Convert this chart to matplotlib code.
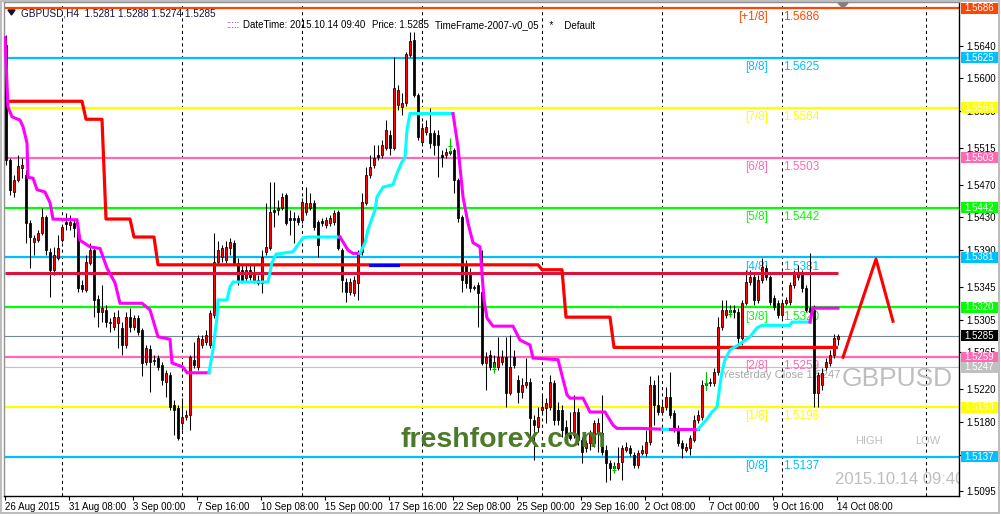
import numpy as np
import matplotlib
matplotlib.use("Agg")
import matplotlib.pyplot as plt
import matplotlib.transforms as mtransforms
from matplotlib.patches import Rectangle, Polygon

plt.rcParams['font.family'] = ['Liberation Sans', 'DejaVu Sans']

# ---------------- data (GBPUSD H4) ----------------
opens = [1.5641, 1.5500, 1.5461, 1.5476, 1.5490, 1.5482, 1.5423, 1.5400, 1.5402, 1.5411,
         1.5430, 1.5388, 1.5366, 1.5380, 1.5402, 1.5424, 1.5421, 1.5423, 1.5415, 1.5347,
         1.5341, 1.5374, 1.5390, 1.5330, 1.5314, 1.5317, 1.5301, 1.5296, 1.5301, 1.5295,
         1.5274, 1.5308, 1.5296, 1.5307, 1.5292, 1.5253, 1.5269, 1.5254, 1.5258, 1.5249,
         1.5229, 1.5237, 1.5201, 1.5197, 1.5178, 1.5186, 1.5188, 1.5256, 1.5247, 1.5274,
         1.5278, 1.5274, 1.5311, 1.5375, 1.5381, 1.5378, 1.5392, 1.5399, 1.5374, 1.5366,
         1.5356, 1.5366, 1.5353, 1.5353, 1.5350, 1.5388, 1.5392, 1.5439, 1.5439, 1.5441,
         1.5457, 1.5429, 1.5429, 1.5429, 1.5427, 1.5437, 1.5441, 1.5448, 1.5424, 1.5426,
         1.5421, 1.5423, 1.5424, 1.5437, 1.5390, 1.5351, 1.5339, 1.5337, 1.5350, 1.5388,
         1.5448, 1.5482, 1.5494, 1.5506, 1.5506, 1.5515, 1.5531, 1.5515, 1.5567, 1.5565,
         1.5570, 1.5629, 1.5647, 1.5580, 1.5522, 1.5534, 1.5533, 1.5533, 1.5531, 1.5506,
         1.5506, 1.5509, 1.5512, 1.5476, 1.5430, 1.5372, 1.5363, 1.5344, 1.5347, 1.5339,
         1.5252, 1.5262, 1.5247, 1.5247, 1.5253, 1.5259, 1.5215, 1.5259, 1.5231, 1.5216,
         1.5225, 1.5229, 1.5182, 1.5174, 1.5195, 1.5197, 1.5198, 1.5228, 1.5195, 1.5195,
         1.5174, 1.5164, 1.5164, 1.5192, 1.5158, 1.5148, 1.5154, 1.5154, 1.5166, 1.5166,
         1.5146, 1.5130, 1.5123, 1.5123, 1.5131, 1.5146, 1.5148, 1.5140, 1.5127, 1.5142,
         1.5142, 1.5155, 1.5225, 1.5201, 1.5192, 1.5198, 1.5210, 1.5191, 1.5172, 1.5154,
         1.5146, 1.5148, 1.5158, 1.5182, 1.5186, 1.5225, 1.5228, 1.5228, 1.5241, 1.5296,
         1.5311, 1.5317, 1.5317, 1.5314, 1.5282, 1.5325, 1.5351, 1.5357, 1.5329, 1.5353,
         1.5368, 1.5357, 1.5331, 1.5325, 1.5311, 1.5325, 1.5327, 1.5347, 1.5357, 1.5362,
         1.5344, 1.5319, 1.5317, 1.5215, 1.5225, 1.5247, 1.5252, 1.5262, 1.5281]
highs = [1.5653, 1.5503, 1.5482, 1.5506, 1.5503, 1.5488, 1.5427, 1.5408, 1.5415, 1.5441,
         1.5433, 1.5392, 1.5394, 1.5408, 1.5421, 1.5435, 1.5433, 1.5427, 1.5417, 1.5353,
         1.5384, 1.5399, 1.5392, 1.5335, 1.5347, 1.5323, 1.5307, 1.5314, 1.5317, 1.5302,
         1.5314, 1.5319, 1.5311, 1.5311, 1.5295, 1.5274, 1.5274, 1.5262, 1.5262, 1.5253,
         1.5243, 1.5241, 1.5207, 1.5201, 1.5209, 1.5195, 1.5262, 1.5278, 1.5286, 1.5286,
         1.5292, 1.5317, 1.5411, 1.5401, 1.5396, 1.5401, 1.5405, 1.5402, 1.5380, 1.5372,
         1.5372, 1.5372, 1.5372, 1.5360, 1.5390, 1.5448, 1.5473, 1.5473, 1.5451, 1.5460,
         1.5460, 1.5439, 1.5437, 1.5433, 1.5454, 1.5467, 1.5460, 1.5451, 1.5427, 1.5429,
         1.5430, 1.5433, 1.5439, 1.5439, 1.5392, 1.5356, 1.5356, 1.5358, 1.5390, 1.5460,
         1.5492, 1.5506, 1.5518, 1.5519, 1.5525, 1.5549, 1.5537, 1.5626, 1.5592, 1.5582,
         1.5632, 1.5657, 1.5657, 1.5582, 1.5545, 1.5549, 1.5564, 1.5537, 1.5537, 1.5512,
         1.5515, 1.5515, 1.5515, 1.5478, 1.5433, 1.5378, 1.5368, 1.5347, 1.5351, 1.5390,
         1.5265, 1.5268, 1.5262, 1.5284, 1.5268, 1.5284, 1.5286, 1.5268, 1.5237, 1.5234,
         1.5258, 1.5234, 1.5188, 1.5198, 1.5213, 1.5209, 1.5237, 1.5231, 1.5204, 1.5201,
         1.5182, 1.5192, 1.5213, 1.5197, 1.5161, 1.5158, 1.5170, 1.5182, 1.5185, 1.5213,
         1.5152, 1.5133, 1.5131, 1.5149, 1.5152, 1.5155, 1.5152, 1.5143, 1.5146, 1.5152,
         1.5170, 1.5236, 1.5231, 1.5237, 1.5204, 1.5223, 1.5241, 1.5195, 1.5176, 1.5158,
         1.5154, 1.5164, 1.5188, 1.5195, 1.5231, 1.5241, 1.5234, 1.5246, 1.5308, 1.5329,
         1.5329, 1.5323, 1.5323, 1.5319, 1.5329, 1.5366, 1.5366, 1.5363, 1.5360, 1.5380,
         1.5372, 1.5360, 1.5335, 1.5329, 1.5329, 1.5333, 1.5351, 1.5366, 1.5372, 1.5366,
         1.5347, 1.5386, 1.5323, 1.5241, 1.5246, 1.5258, 1.5268, 1.5287, 1.5288]
lows = [1.5494, 1.5457, 1.5455, 1.5473, 1.5478, 1.5399, 1.5368, 1.5384, 1.5400, 1.5408,
        1.5384, 1.5333, 1.5360, 1.5378, 1.5400, 1.5415, 1.5415, 1.5406, 1.5339, 1.5339,
        1.5339, 1.5372, 1.5308, 1.5296, 1.5302, 1.5296, 1.5290, 1.5292, 1.5270, 1.5262,
        1.5270, 1.5290, 1.5292, 1.5286, 1.5236, 1.5249, 1.5216, 1.5249, 1.5243, 1.5225,
        1.5210, 1.5195, 1.5164, 1.5158, 1.5170, 1.5182, 1.5170, 1.5246, 1.5243, 1.5270,
        1.5274, 1.5270, 1.5307, 1.5372, 1.5375, 1.5374, 1.5384, 1.5372, 1.5347, 1.5350,
        1.5351, 1.5353, 1.5350, 1.5347, 1.5337, 1.5384, 1.5390, 1.5418, 1.5433, 1.5439,
        1.5421, 1.5408, 1.5399, 1.5421, 1.5423, 1.5433, 1.5439, 1.5415, 1.5381, 1.5419,
        1.5417, 1.5419, 1.5421, 1.5390, 1.5339, 1.5327, 1.5335, 1.5334, 1.5329, 1.5384,
        1.5445, 1.5478, 1.5490, 1.5500, 1.5503, 1.5512, 1.5506, 1.5512, 1.5561, 1.5555,
        1.5566, 1.5626, 1.5577, 1.5525, 1.5519, 1.5531, 1.5515, 1.5506, 1.5479, 1.5492,
        1.5503, 1.5506, 1.5460, 1.5424, 1.5339, 1.5344, 1.5339, 1.5341, 1.5296, 1.5249,
        1.5219, 1.5243, 1.5241, 1.5243, 1.5249, 1.5198, 1.5213, 1.5246, 1.5203, 1.5209,
        1.5221, 1.5160, 1.5133, 1.5168, 1.5188, 1.5178, 1.5195, 1.5176, 1.5176, 1.5161,
        1.5158, 1.5158, 1.5160, 1.5152, 1.5130, 1.5143, 1.5146, 1.5149, 1.5143, 1.5139,
        1.5106, 1.5109, 1.5119, 1.5121, 1.5109, 1.5143, 1.5138, 1.5123, 1.5123, 1.5140,
        1.5138, 1.5152, 1.5176, 1.5188, 1.5188, 1.5195, 1.5185, 1.5168, 1.5150, 1.5136,
        1.5143, 1.5140, 1.5155, 1.5178, 1.5182, 1.5219, 1.5224, 1.5224, 1.5237, 1.5292,
        1.5307, 1.5311, 1.5307, 1.5274, 1.5274, 1.5323, 1.5347, 1.5323, 1.5325, 1.5350,
        1.5353, 1.5323, 1.5317, 1.5307, 1.5307, 1.5323, 1.5323, 1.5344, 1.5353, 1.5339,
        1.5314, 1.5311, 1.5198, 1.5198, 1.5219, 1.5243, 1.5248, 1.5258, 1.5274]
closes = [1.5500, 1.5463, 1.5476, 1.5493, 1.5494, 1.5423, 1.5406, 1.5405, 1.5411, 1.5430,
          1.5390, 1.5366, 1.5384, 1.5392, 1.5418, 1.5422, 1.5424, 1.5417, 1.5344, 1.5342,
          1.5375, 1.5390, 1.5329, 1.5314, 1.5319, 1.5302, 1.5302, 1.5308, 1.5308, 1.5274,
          1.5308, 1.5296, 1.5307, 1.5290, 1.5252, 1.5270, 1.5253, 1.5256, 1.5247, 1.5231,
          1.5240, 1.5198, 1.5195, 1.5160, 1.5186, 1.5188, 1.5259, 1.5249, 1.5282, 1.5281,
          1.5286, 1.5313, 1.5375, 1.5390, 1.5392, 1.5394, 1.5400, 1.5374, 1.5353, 1.5353,
          1.5366, 1.5357, 1.5363, 1.5350, 1.5381, 1.5394, 1.5437, 1.5437, 1.5441, 1.5455,
          1.5423, 1.5427, 1.5427, 1.5424, 1.5449, 1.5448, 1.5448, 1.5418, 1.5396, 1.5423,
          1.5427, 1.5429, 1.5435, 1.5392, 1.5353, 1.5339, 1.5351, 1.5353, 1.5386, 1.5449,
          1.5482, 1.5492, 1.5503, 1.5504, 1.5518, 1.5537, 1.5515, 1.5588, 1.5586, 1.5570,
          1.5630, 1.5646, 1.5580, 1.5528, 1.5539, 1.5540, 1.5521, 1.5518, 1.5518, 1.5504,
          1.5510, 1.5511, 1.5476, 1.5429, 1.5353, 1.5350, 1.5344, 1.5345, 1.5337, 1.5252,
          1.5259, 1.5247, 1.5253, 1.5259, 1.5259, 1.5215, 1.5247, 1.5249, 1.5216, 1.5225,
          1.5229, 1.5185, 1.5176, 1.5186, 1.5198, 1.5203, 1.5229, 1.5182, 1.5182, 1.5170,
          1.5161, 1.5160, 1.5192, 1.5158, 1.5143, 1.5154, 1.5166, 1.5178, 1.5178, 1.5143,
          1.5130, 1.5123, 1.5126, 1.5130, 1.5148, 1.5149, 1.5142, 1.5127, 1.5142, 1.5146,
          1.5155, 1.5225, 1.5201, 1.5192, 1.5198, 1.5210, 1.5188, 1.5172, 1.5154, 1.5148,
          1.5149, 1.5160, 1.5182, 1.5188, 1.5225, 1.5228, 1.5229, 1.5241, 1.5296, 1.5317,
          1.5317, 1.5314, 1.5314, 1.5282, 1.5325, 1.5351, 1.5357, 1.5329, 1.5353, 1.5369,
          1.5357, 1.5327, 1.5320, 1.5311, 1.5325, 1.5329, 1.5347, 1.5362, 1.5362, 1.5344,
          1.5317, 1.5314, 1.5215, 1.5237, 1.5240, 1.5253, 1.5262, 1.5282, 1.5285]

x_tick_labels = ['26 Aug 2015', '31 Aug 08:00', '3 Sep 00:00', '7 Sep 16:00', '10 Sep 08:00',
                 '15 Sep 00:00', '17 Sep 16:00', '22 Sep 08:00', '25 Sep 00:00', '29 Sep 16:00',
                 '2 Oct 08:00', '7 Oct 00:00', '9 Oct 16:00', '14 Oct 08:00']
y_ticks = [1.5640, 1.5600, 1.5560, 1.5515, 1.5470, 1.5430, 1.5390, 1.5345,
           1.5305, 1.5265, 1.5220, 1.5180, 1.5140, 1.5095]
grid_bars = [14, 44, 74, 104, 134, 164, 194, 230]

# Murrey math levels
mm_names = ['[+1/8]', '[8/8]', '[7/8]', '[6/8]', '[5/8]', '[4/8]', '[3/8]', '[2/8]', '[1/8]', '[0/8]']
mm_levels = [1.5686, 1.5625, 1.5564, 1.5503, 1.5442, 1.5381, 1.5320, 1.5259, 1.5198, 1.5137]
mm_colors = ['#FF4500', '#00BFFF', '#FFFF00', '#FF69B4', '#00FF00',
             '#00BFFF', '#00FF00', '#FF69B4', '#FFFF00', '#00BFFF']

current_price = 1.5285
yesterday_close = 1.5247
pivot_level = 1.5362

# red trailing stop: level changes at these bars
stop_start = [0, 20, 25, 32, 38, 134, 140, 152]
stop_level = [1.5572, 1.5550, 1.5428, 1.5406, 1.5372, 1.5366, 1.5308, 1.5271]
stop_blue_bars = [91, 98]

# magenta / cyan trend line knots (bar, price) and colour switch bars
trail_bars = [-0.25, 0.5, 1.5, 3.5, 4.25, 5.25, 5.5, 6.75, 7.75, 9.75, 11, 11.75, 17.75, 18.5,
              21, 23.5, 25.25, 27.25, 28.5, 34, 36, 38, 41, 41.5, 44.25, 45.25, 50.75,
              51.75, 52.75, 53, 55.25, 56, 56.75, 65.5, 66.5, 67.5, 71.75, 74.25, 75.5, 83.5,
              85.5, 86.75, 88.5,
              89.75, 90.5, 92.25, 92.75, 94.25, 96.75, 97.75, 99, 99.75, 100.25, 101, 111.75,
              113, 114.25, 115.5, 116.75, 118.5, 119.5, 120.25, 121.75, 126.75, 128.5, 131,
              131.75, 138, 140.25, 141, 144.25, 146, 149.75, 151.75, 152.75, 158.5, 164,
              166, 173,
              175, 176.5, 177.75, 178.5, 179, 179.75, 181, 182.75, 184.25, 186, 187.75, 189,
              196, 196.5, 201, 201.75, 208]
trail_vals = [1.5650, 1.5565, 1.5553, 1.5549, 1.5541, 1.5521, 1.5479, 1.5478, 1.5464, 1.5461,
              1.5448, 1.5428, 1.5427, 1.5402, 1.5394, 1.5392, 1.5368, 1.5350, 1.5325, 1.5325,
              1.5317, 1.5284, 1.5281, 1.5252, 1.5247, 1.5240, 1.5240,
              1.5268, 1.5308, 1.5329, 1.5329, 1.5345, 1.5351, 1.5351, 1.5375, 1.5385, 1.5388,
              1.5405, 1.5406, 1.5406,
              1.5390, 1.5386, 1.5386,
              1.5399, 1.5415, 1.5439, 1.5455, 1.5467, 1.5470, 1.5484, 1.5498, 1.5503, 1.5537,
              1.5557, 1.5557,
              1.5516, 1.5455, 1.5423, 1.5399, 1.5394, 1.5329, 1.5307, 1.5297, 1.5297, 1.5280,
              1.5274, 1.5258, 1.5256, 1.5213, 1.5209, 1.5209, 1.5192, 1.5192, 1.5176, 1.5172,
              1.5172, 1.5171,
              1.5171, 1.5171,
              1.5182, 1.5192, 1.5198, 1.5225, 1.5241, 1.5256, 1.5268, 1.5273, 1.5278, 1.5284,
              1.5295, 1.5298, 1.5298, 1.5302, 1.5302, 1.5319, 1.5319]
trail_switch = [50.75, 83.5, 88.5, 111.75, 164, 166, 173, 201]

# projected zigzag and fractal arrows
zig_bars = [209.25, 217.5, 221.75]
zig_vals = [1.5259, 1.5379, 1.5303]
fractal_bars = [111, 122, 152, 175, 181]
fractal_top = [1.5527, 1.5252, 1.5127, 1.5241, 1.5319]
fractal_bot = [1.5510, 1.5240, 1.5117, 1.5219, 1.5308]

# ---------------- figure ----------------
W, H = 1001, 516
fig = plt.figure(figsize=(W / 100, H / 100), dpi=100)
fig.patch.set_facecolor('white')
ax = fig.add_axes([4 / W, (H - 496) / H, 955 / W, 494 / H])
ax.set_xlim(-0.5, 238.25)
ax.set_ylim(1.50893, 1.56934)
ax.set_facecolor('white')

def fx(x):
    return x / W

def fy(y):
    return 1 - y / H

# vertical dashed grid
for b in grid_bars:
    ax.axvline(b, color='black', lw=0.75, ls=(0, (3, 3)), zorder=1)

# Murrey lines
for lvl, col in zip(mm_levels, mm_colors):
    ax.axhline(lvl, color=col, lw=1.6, zorder=2)
ax.axhline(current_price, color='#778899', lw=0.8, zorder=2)
ax.axhline(yesterday_close, color='#C0C0C0', lw=0.8, zorder=2)

# level captions
for name, lvl, col in zip(mm_names, mm_levels, mm_colors):
    ax.annotate(name, (190.5, lvl), xytext=(0, -6.6), textcoords='offset points',
                ha='right', va='center', fontsize=8.5, color=col, zorder=2)
    ax.annotate('%.4f' % lvl, (194.25, lvl), xytext=(0, -6.6), textcoords='offset points',
                ha='left', va='center', fontsize=8.5, color=col, zorder=2)

ax.text((722 - 4) / 955, (496 - 375) / 494, 'Yesterday Close %.4f' % yesterday_close,
        transform=ax.transAxes, fontsize=8, color='#A8A8A8', va='center', zorder=2)

# candles
o = np.array(opens); h = np.array(highs); l = np.array(lows); c = np.array(closes)
idx = np.arange(len(c))
up = c >= o
ax.vlines(idx, l, h, color='black', lw=0.75, zorder=3)
lo = np.minimum(o, c)
ht = np.maximum(np.abs(c - o), 0.00006)
ax.bar(idx[up], ht[up], bottom=lo[up], width=0.7, color='#FF0000',
       edgecolor='black', linewidth=0.55, zorder=4)
ax.bar(idx[~up], ht[~up], bottom=lo[~up], width=0.7, color='black',
       edgecolor='black', linewidth=0.55, zorder=4)

# crimson pivot line
ax.hlines(pivot_level, -0.25, len(c) - 1, color='#DC143C', lw=2.2, zorder=5)

# red trailing stop
stop = np.empty(len(c))
for s, v in zip(stop_start, stop_level):
    stop[s:] = v
ax.plot(idx, stop, color='#FF0000', lw=2.3, zorder=5, solid_capstyle='butt')
b0, b1 = stop_blue_bars
ax.plot(idx[b0:b1 + 1], stop[b0:b1 + 1], color='#0000FF', lw=2.3, zorder=5)

# magenta / cyan trend line
tb = np.array(trail_bars); tv = np.array(trail_vals)
cuts = [0] + [int(np.where(np.isclose(tb, s))[0][0]) for s in trail_switch] + [len(tb) - 1]
for k in range(len(cuts) - 1):
    seg = slice(cuts[k], cuts[k + 1] + 1)
    col = '#FF00FF' if k % 2 == 0 else '#00FFFF'
    ax.plot(tb[seg], tv[seg], color=col, lw=2.2, zorder=6, solid_joinstyle='miter')

# fractal arrows
for b, t, btm in zip(fractal_bars, fractal_top, fractal_bot):
    ax.vlines(b, btm, t, color='#00C000', lw=0.9, zorder=6)
    ax.hlines(btm + (t - btm) * 0.4, b - 0.4, b + 0.4, color='#00C000', lw=0.9, zorder=6)

# projection zigzag
ax.plot(zig_bars, zig_vals, color='#FF0000', lw=2.2, zorder=6)

# watermark texts
ax.text((842 - 4) / 955, (496 - 379) / 494, 'GBPUSD', transform=ax.transAxes,
        fontsize=19, color='#BEBEBE', va='center', ha='left', zorder=2)
ax.text((855 - 4) / 955, (496 - 441) / 494, 'HIGH', transform=ax.transAxes,
        fontsize=8, color='#BEBEBE', va='center', ha='left', zorder=2)
ax.text((915 - 4) / 955, (496 - 441) / 494, 'LOW', transform=ax.transAxes,
        fontsize=8, color='#BEBEBE', va='center', ha='left', zorder=2)
ax.text((835 - 4) / 955, (496 - 479) / 494, '2015.10.14 09:40', transform=ax.transAxes,
        fontsize=12, color='#BEBEBE', va='center', ha='left', zorder=2, clip_on=True)
ax.text((503 - 4) / 955, (496 - 447) / 494, 'freshforex.com', transform=ax.transAxes,
        fontsize=20.5, fontweight='bold', color='#4B7A29', va='baseline', ha='center', zorder=8)

# axes styling
ax.yaxis.tick_right()
ax.set_yticks(y_ticks)
ax.set_yticklabels(['%.4f' % v for v in y_ticks])
ax.set_xticks([16 * k - 0.25 for k in range(len(x_tick_labels))])
ax.set_xticklabels(x_tick_labels)
for lab in ax.get_xticklabels():
    lab.set_horizontalalignment('left')
ax.tick_params(axis='y', direction='out', length=3, width=0.8, labelsize=7, pad=2,
               colors='black')
ax.tick_params(axis='x', direction='out', length=3, width=0.8, labelsize=7, pad=1.5,
               colors='black')
for side in ['right', 'bottom']:
    ax.spines[side].set_color('black')
    ax.spines[side].set_linewidth(1)
for side in ['left', 'top']:
    ax.spines[side].set_color('#909090')
    ax.spines[side].set_linewidth(1)

# price boxes on the right scale
bt = mtransforms.blended_transform_factory(ax.transAxes, ax.transData)
box_h = 11 * (ax.get_ylim()[1] - ax.get_ylim()[0]) / 494
box_vals = mm_levels + [current_price, yesterday_close]
box_cols = mm_colors + ['black', '#C0C0C0']
for v, col in zip(box_vals, box_cols):
    ax.add_patch(Rectangle((1 + 2 / 955, v - box_h / 2), 37 / 955, box_h, transform=bt,
                           facecolor=col, edgecolor='none', clip_on=False, zorder=10))
    ax.text(1 + 5 / 955, v, '%.4f' % v, transform=bt, fontsize=7, color='white',
            va='center', ha='left', clip_on=False, zorder=11)

# header texts
fig.add_artist(Polygon([[fx(8), fy(10)], [fx(15), fy(10)], [fx(11.5), fy(15)]],
                       closed=True, color='#101030'))
fig.text(fx(21), fy(13), 'GBPUSD,H4  %.4f %.4f %.4f %.4f' % (opens[-1], highs[-1], lows[-1], closes[-1]),
         fontsize=7.2, color='#101040', va='center', ha='left')
fig.text(fx(226), fy(25), ':::::', fontsize=7, color='#800080', va='center', ha='left')
fig.text(fx(243), fy(25), 'DateTime: 2015.10.14 09:40', fontsize=7, color='black',
         va='center', ha='left')
fig.text(fx(372), fy(25), 'Price: %.4f' % current_price, fontsize=7, color='black',
         va='center', ha='left')
fig.text(fx(435), fy(25), 'TimeFrame-2007-v0_05    *    Default', fontsize=7, color='black',
         va='center', ha='left')

# shift marker and window border
fig.add_artist(Polygon([[fx(838), fy(3)], [fx(848), fy(3)], [fx(843), fy(8)]],
                       closed=True, color='#808080'))
fig.add_artist(Rectangle((fx(1), fy(513)), 998 / W, 512 / H, transform=fig.transFigure,
                         fill=False, edgecolor='#B0B0B0', lw=1.2))

fig.savefig('out.png', dpi=100, facecolor='white')
